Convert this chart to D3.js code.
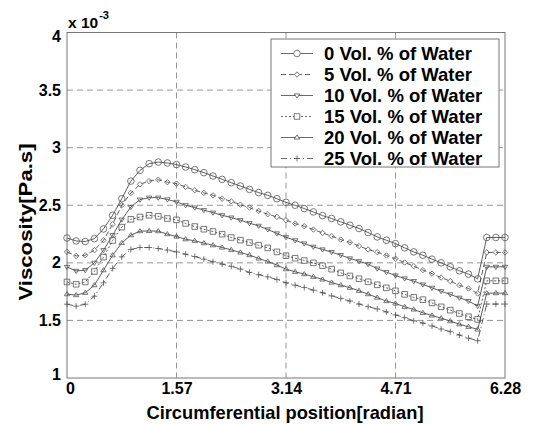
<!DOCTYPE html>
<html>
<head>
<meta charset="utf-8">
<title>Viscosity</title>
<script src="https://cdn.jsdelivr.net/npm/d3@7/dist/d3.min.js"></script>
<style>
body { margin: 0; background: #fff; }
text { font-family: "Liberation Sans", Arial, sans-serif; font-weight: bold; fill: #000; }
</style>
</head>
<body>
<script>
// circumferential position, degrees (7.5 deg steps)
var angles = [0, 7.5, 15, 22.5, 30, 37.5, 45, 52.5, 60, 67.5, 75, 82.5, 90, 97.5, 105, 112.5,
    120, 127.5, 135, 142.5, 150, 157.5, 165, 172.5, 180, 187.5, 195, 202.5, 210, 217.5, 225, 232.5,
    240, 247.5, 255, 262.5, 270, 277.5, 285, 292.5, 300, 307.5, 315, 322.5, 330, 337.5, 345, 352.5, 360];

// viscosity x 10^-3 Pa.s
var water0 = [2.216, 2.19, 2.185, 2.21, 2.294, 2.413, 2.557, 2.71, 2.803, 2.861, 2.875, 2.867,
    2.853, 2.832, 2.809, 2.783, 2.754, 2.725, 2.696, 2.667, 2.638, 2.61, 2.586,
    2.557, 2.525, 2.5, 2.471, 2.442, 2.41, 2.385, 2.356, 2.327, 2.298, 2.263, 2.225,
    2.196, 2.167, 2.13, 2.095, 2.066, 2.032, 2.0, 1.965, 1.931, 1.902, 1.861,
    2.22, 2.22, 2.22];
var water5 = [2.095, 2.06, 2.066, 2.11, 2.196, 2.335, 2.5, 2.606, 2.682, 2.71, 2.722, 2.70,
    2.688, 2.659, 2.63, 2.607, 2.586, 2.557, 2.534, 2.505, 2.48, 2.45, 2.422,
    2.399, 2.37, 2.341, 2.318, 2.289, 2.26, 2.231, 2.202, 2.178, 2.146, 2.116, 2.093,
    2.064, 2.035, 2.003, 1.971, 1.937, 1.906, 1.872, 1.841, 1.806, 1.777, 1.734,
    2.09, 2.09, 2.09];
var water10 = [1.964, 1.93, 1.936, 2.0, 2.11, 2.24, 2.375, 2.485, 2.549, 2.566, 2.566, 2.55,
    2.529, 2.5, 2.48, 2.457, 2.436, 2.413, 2.393, 2.37, 2.344, 2.321, 2.29,
    2.255, 2.222, 2.195, 2.168, 2.139, 2.116, 2.093, 2.067, 2.038, 2.014, 1.988, 1.95,
    1.919, 1.89, 1.864, 1.841, 1.812, 1.783, 1.754, 1.726, 1.697, 1.668, 1.625,
    1.965, 1.965, 1.965];
var water15 = [1.834, 1.814, 1.834, 1.925, 2.05, 2.194, 2.31, 2.378, 2.398, 2.413, 2.404, 2.385,
    2.373, 2.342, 2.315, 2.292, 2.272, 2.249, 2.22, 2.197, 2.176, 2.153, 2.13,
    2.095, 2.062, 2.04, 2.02, 2.0, 1.975, 1.945, 1.913, 1.886, 1.862, 1.835, 1.809,
    1.783, 1.757, 1.726, 1.7, 1.68, 1.652, 1.618, 1.589, 1.56, 1.532, 1.509,
    1.844, 1.844, 1.844];
var water20 = [1.728, 1.72, 1.74, 1.806, 1.936, 2.066, 2.173, 2.24, 2.275, 2.277, 2.275, 2.249,
    2.228, 2.205, 2.191, 2.171, 2.153, 2.133, 2.113, 2.09, 2.067, 2.038, 2.012,
    1.98, 1.945, 1.922, 1.902, 1.879, 1.856, 1.829, 1.806, 1.784, 1.757, 1.728, 1.698,
    1.668, 1.647, 1.618, 1.595, 1.566, 1.543, 1.52, 1.494, 1.467, 1.445, 1.422,
    1.737, 1.737, 1.737];
var water25 = [1.641, 1.624, 1.641, 1.71, 1.826, 1.951, 2.052, 2.116, 2.133, 2.133, 2.124, 2.111,
    2.095, 2.075, 2.055, 2.032, 2.009, 1.989, 1.97, 1.946, 1.917, 1.897, 1.878,
    1.855, 1.827, 1.806, 1.786, 1.763, 1.74, 1.713, 1.691, 1.668, 1.642, 1.619, 1.60,
    1.574, 1.548, 1.524, 1.497, 1.477, 1.452, 1.425, 1.402, 1.373, 1.346, 1.324,
    1.642, 1.642, 1.642];

var seriesNames = ['0 Vol. % of Water', '5 Vol. % of Water', '10 Vol. % of Water',
    '15 Vol. % of Water', '20 Vol. % of Water', '25 Vol. % of Water'];
var seriesValues = [water0, water5, water10, water15, water20, water25];
var markers = ['circle', 'diamond', 'triDown', 'square', 'triUp', 'plus'];
var dashes = [null, '5,3', null, '2,2', null, '6,3,1,3'];

var xTickValues = [0, 90, 180, 270, 360];
var xTickLabels = ['0', '1.57', '3.14', '4.71', '6.28'];
var yTickValues = [1, 1.5, 2, 2.5, 3, 3.5, 4];
var yTickLabels = ['1', '1.5', '2', '2.5', '3', '3.5', '4'];

var svgWidth = 533, svgHeight = 424;
var plotLeft = 67, plotRight = 505, plotTop = 32.5, plotBottom = 378;

var svg = d3.select('body').append('svg')
    .attr('width', svgWidth)
    .attr('height', svgHeight);

var x = d3.scaleLinear().domain([0, 360]).range([plotLeft, plotRight]);
var y = d3.scaleLinear().domain([1, 4]).range([plotBottom, plotTop]);

/* grid */
var grid = svg.append('g')
    .attr('stroke', '#8a8a8a')
    .attr('stroke-width', 0.9)
    .attr('stroke-dasharray', '6,4');
grid.selectAll('.gx').data(xTickValues.slice(1, -1)).enter().append('line')
    .attr('x1', function(d) { return x(d); })
    .attr('x2', function(d) { return x(d); })
    .attr('y1', plotTop).attr('y2', plotBottom);
grid.selectAll('.gy').data(yTickValues.slice(1, -1)).enter().append('line')
    .attr('y1', function(d) { return y(d); })
    .attr('y2', function(d) { return y(d); })
    .attr('x1', plotLeft).attr('x2', plotRight);

/* axes box */
svg.append('rect')
    .attr('x', plotLeft).attr('y', plotTop)
    .attr('width', plotRight - plotLeft).attr('height', plotBottom - plotTop)
    .attr('fill', 'none').attr('stroke', '#777').attr('stroke-width', 1);

var xAxis = d3.axisBottom(x).tickValues(xTickValues)
    .tickFormat(function(d, i) { return xTickLabels[i]; })
    .tickSize(0).tickPadding(5);
var gx = svg.append('g').attr('transform', 'translate(0,' + plotBottom + ')').call(xAxis);
gx.select('.domain').remove();
gx.selectAll('text').attr('font-size', 16).attr('font-family', null);
gx.select('.tick:first-of-type text').attr('dx', 3);

var yAxis = d3.axisLeft(y).tickValues(yTickValues)
    .tickFormat(function(d, i) { return yTickLabels[i]; })
    .tickSize(0).tickPadding(6);
var gy = svg.append('g').attr('transform', 'translate(' + plotLeft + ',0)').call(yAxis);
gy.select('.domain').remove();
gy.selectAll('text').attr('font-size', 16).attr('font-family', null);
gy.select('.tick:first-of-type text').attr('dy', '0.1em');
gy.select('.tick:last-of-type text').attr('dy', '0.55em');

/* exponent */
var ex = svg.append('text').attr('x', plotLeft + 1).attr('y', 28).attr('font-size', 15.5);
ex.append('tspan').text('x 10');
ex.append('tspan').attr('dy', -9).attr('dx', 1).attr('font-size', 11).text('-3');

/* axis titles */
svg.append('text')
    .attr('x', 285).attr('y', 419)
    .attr('text-anchor', 'middle')
    .attr('font-size', 18.5)
    .attr('textLength', 277).attr('lengthAdjust', 'spacingAndGlyphs')
    .text('Circumferential position[radian]');
svg.append('text')
    .attr('transform', 'translate(32,222) rotate(-90)')
    .attr('text-anchor', 'middle')
    .attr('font-size', 19)
    .attr('textLength', 157).attr('lengthAdjust', 'spacingAndGlyphs')
    .text('Viscosity[Pa.s]');

function markerPath(type) {
    var p = d3.path();
    if (type === 'circle') {
        p.moveTo(3.3, 0); p.arc(0, 0, 3.3, 0, 2 * Math.PI);
    } else if (type === 'diamond') {
        p.moveTo(0, -2.7); p.lineTo(2.7, 0); p.lineTo(0, 2.7); p.lineTo(-2.7, 0); p.closePath();
    } else if (type === 'triDown') {
        p.moveTo(-2.7, -1.6); p.lineTo(2.7, -1.6); p.lineTo(0, 2.6); p.closePath();
    } else if (type === 'triUp') {
        p.moveTo(-2.7, 1.6); p.lineTo(2.7, 1.6); p.lineTo(0, -2.6); p.closePath();
    } else if (type === 'square') {
        p.rect(-2.8, -2.8, 5.6, 5.6);
    } else {
        p.moveTo(-3, 0); p.lineTo(3, 0); p.moveTo(0, -3); p.lineTo(0, 3);
    }
    return p.toString();
}

var line = d3.line()
    .x(function(d, i) { return x(angles[i]); })
    .y(function(d) { return y(d); });

/* curves */
seriesValues.forEach(function(vals, s) {
    var g = svg.append('g');
    g.append('path')
        .attr('d', line(vals))
        .attr('fill', 'none')
        .attr('stroke', '#333')
        .attr('stroke-width', 0.8)
        .attr('stroke-dasharray', dashes[s]);
    g.selectAll('path.m').data(vals).enter().append('path')
        .attr('class', 'm')
        .attr('d', markerPath(markers[s]))
        .attr('transform', function(d, i) { return 'translate(' + x(angles[i]) + ',' + y(d) + ')'; })
        .attr('fill', 'none')
        .attr('stroke', '#555')
        .attr('stroke-width', 0.8);
});

/* legend */
var lx = 271, ly = 39, lw = 228, lh = 128;
var legend = svg.append('g');
legend.append('rect')
    .attr('x', lx).attr('y', ly).attr('width', lw).attr('height', lh)
    .attr('fill', '#fff').attr('stroke', '#777').attr('stroke-width', 1);
var rows = legend.selectAll('g.row').data(seriesNames).enter().append('g')
    .attr('transform', function(d, i) { return 'translate(0,' + (ly + 14.5 + i * 21) + ')'; });
rows.append('line')
    .attr('x1', lx + 10).attr('x2', lx + 42).attr('y1', 0).attr('y2', 0)
    .attr('stroke', '#444').attr('stroke-width', 0.8)
    .attr('stroke-dasharray', function(d, i) { return dashes[i]; });
rows.append('path')
    .attr('d', function(d, i) { return markerPath(markers[i]); })
    .attr('transform', 'translate(' + (lx + 26) + ',0)')
    .attr('fill', '#fff').attr('stroke', '#555').attr('stroke-width', 0.8);
rows.append('text')
    .attr('x', lx + 53).attr('y', 6.5)
    .attr('font-size', 18.5)
    .text(function(d) { return d; });
</script>
</body>
</html>
